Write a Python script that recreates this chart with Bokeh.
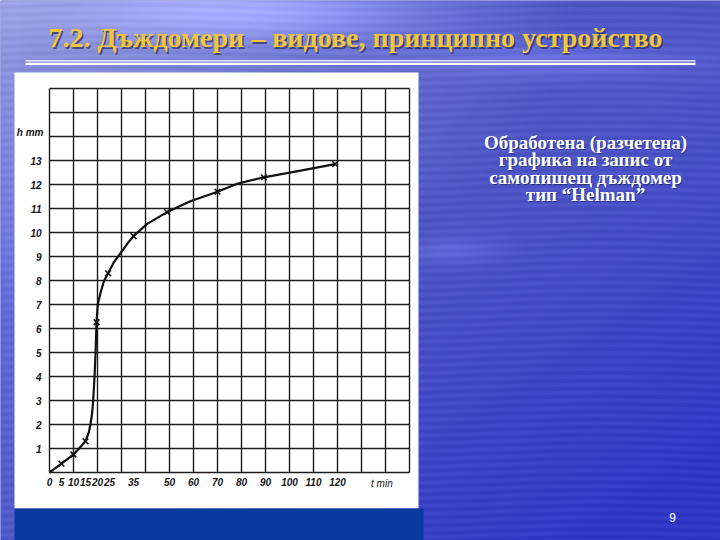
import numpy as np
from bokeh.plotting import figure
from bokeh.models import Range1d, Label, BoxAnnotation, FixedTicker
from bokeh.embed import file_html
from bokeh.resources import INLINE

# ---------------- data ----------------
title_text = "7.2. Дъждомери – видове, принципно устройство"
note_lines = ["Обработена (разчетена)", "графика на запис от", "самопишещ дъждомер", "тип “Helman”"]
page_number = "9"

x_name = "t min"
y_name = "h mm"
t_ticks = [0, 5, 10, 15, 20, 25, 35, 50, 60, 70, 80, 90, 100, 110, 120]
h_ticks = [1, 2, 3, 4, 5, 6, 7, 8, 9, 10, 11, 12, 13]
grid_t = [0, 10, 20, 30, 40, 50, 60, 70, 80, 90, 100, 110, 120, 130, 140, 150]
grid_h = [0, 1, 2, 3, 4, 5, 6, 7, 8, 9, 10, 11, 12, 13, 14, 15, 16]

curve_t = [0, 5, 10, 12.2, 15, 16.4, 17.1, 17.8, 18.2, 18.75, 19.2, 19.6, 20.1, 21.3,
           22.6, 24.4, 26.8, 29.3, 32.4, 35, 40.7, 49, 58.7, 70, 78.2, 89.3, 104.6, 119]
curve_h = [0, 0.37, 0.75, 0.99, 1.3, 1.68, 2.03, 2.5, 3.0, 3.97, 5.0, 6.26, 7.0, 7.5,
           7.95, 8.3, 8.76, 9.1, 9.53, 9.85, 10.36, 10.85, 11.3, 11.7, 12.03, 12.3, 12.58, 12.85]
point_t = [5, 10, 15, 19.6, 24.4, 35, 49, 70, 89.3, 119]
point_h = [0.37, 0.75, 1.3, 6.26, 8.3, 9.85, 10.85, 11.7, 12.3, 12.85]

# ---------------- layout (picture pixels -> data) ----------------
W, H = 720, 540
T0_X, H0_Y = 49.0, 472.0
PX_MIN, PX_MM = 2.4, 24.0


def dx(X):
    return (X - T0_X) / PX_MIN


def dy(Y):
    return (H0_Y - Y) / PX_MM


p = figure(width=W, height=H, x_range=Range1d(dx(0), dx(W)),
           y_range=Range1d(dy(H), dy(0)), output_backend="svg",
           toolbar_location=None, tools="", min_border=0)
p.outline_line_color = None
p.xgrid.visible = False
p.ygrid.visible = False
p.background_fill_color = "#4b55c0"
p.border_fill_color = "#4b55c0"

# ---------------- slide background ----------------
nx, ny = 360, 270
XX, YY = np.meshgrid(np.linspace(0, W, nx), np.linspace(0, H, ny))
u, v = XX / 720.0, YY / 540.0
light = np.array([150.0, 156.0, 222.0])
mid = np.array([78.0, 86.0, 198.0])
dark = np.array([50.0, 56.0, 198.0])
f = np.clip(np.sqrt((u / 0.8) ** 2 + (v / 0.6) ** 2), 0, 1)[..., None]
rgb = light * (1 - f) + mid * f
g = np.clip((u - 0.5) * 1.2 + (v - 0.55) * 1.4, 0, 1)[..., None]
rgb = rgb * (1 - g) + dark * g
glow = (45 * np.exp(-((XX - 250) / 170) ** 2 - ((YY - 10) / 28) ** 2)
        + 25 * np.exp(-((XX - 560) / 130) ** 2 - ((YY - 60) / 18) ** 2)
        + 18 * np.exp(-((XX - 450) / 50) ** 2 - ((YY - 250) / 12) ** 2)
        + 20 * np.exp(-((XX - 8) / 14) ** 2 - ((YY - 300) / 200) ** 2))
streak = 6 * np.sin(YY * 0.8 + 2.0 * np.sin(XX * 0.013))
rgb = np.clip(rgb + (glow + streak)[..., None], 0, 255)
img = np.empty((ny, nx), dtype=np.uint32)
view = img.view(dtype=np.uint8).reshape((ny, nx, 4))
view[..., 0] = rgb[..., 0]
view[..., 1] = rgb[..., 1]
view[..., 2] = rgb[..., 2]
view[..., 3] = 255
p.image_rgba(image=[img[::-1]], x=dx(0), y=dy(H), dw=W / PX_MIN, dh=H / PX_MM, level="image")

# white scanned panel and dark footer bar
p.add_layout(BoxAnnotation(left=dx(14), right=dx(418), top=dy(72), bottom=dy(508),
                           fill_color="white", fill_alpha=1, line_color=None, level="underlay"))
p.add_layout(BoxAnnotation(left=dx(14), right=dx(423), top=dy(508), bottom=dy(545),
                           fill_color="#0a3a9e", fill_alpha=1, line_color=None, level="underlay"))
# double rule under the title
p.add_layout(BoxAnnotation(left=dx(25), right=dx(695), top=dy(59.8), bottom=dy(61.0),
                           fill_color="white", fill_alpha=1, line_color=None, level="underlay"))
p.add_layout(BoxAnnotation(left=dx(25), right=dx(695), top=dy(62.2), bottom=dy(64.4),
                           fill_color="white", fill_alpha=1, line_color=None, level="underlay"))

# ---------------- chart ----------------
g_top, g_bot = grid_h[-1], grid_h[0]
g_left, g_right = grid_t[0], grid_t[-1]
p.segment(x0=grid_t, y0=[g_bot] * len(grid_t), x1=grid_t, y1=[g_top] * len(grid_t),
          line_color="#1c1c1c", line_width=1.4)
p.segment(x0=[g_left] * len(grid_h), y0=grid_h, x1=[g_right] * len(grid_h), y1=grid_h,
          line_color="#1c1c1c", line_width=1.4)
p.line(curve_t, curve_h, line_color="#111111", line_width=2.2)
p.scatter(point_t, point_h, marker="x", size=8, line_color="#111111", line_width=1.6)

for ax, ticks, standoff in ((p.xaxis, t_ticks, 5), (p.yaxis, h_ticks, 8)):
    ax.ticker = FixedTicker(ticks=ticks)
    ax.fixed_location = 0
    ax.axis_line_color = None
    ax.major_tick_line_color = None
    ax.minor_tick_line_color = None
    ax.major_tick_in = 0
    ax.major_tick_out = 0
    ax.major_label_standoff = standoff
    ax.major_label_text_font = "Liberation Sans"
    ax.major_label_text_font_style = "bold italic"
    ax.major_label_text_font_size = "10px"
    ax.major_label_text_color = "#151515"

p.add_layout(Label(x=138.5, y=-0.45, text=x_name, text_align="center", text_baseline="middle",
                   text_font="Liberation Sans", text_font_style="italic",
                   text_font_size="10px", text_color="#151515"))
p.add_layout(Label(x=dx(43), y=14.18, text=y_name, text_align="right", text_baseline="middle",
                   text_font="Liberation Sans", text_font_style="bold italic",
                   text_font_size="10px", text_color="#151515"))

# ---------------- slide texts ----------------
p.add_layout(Label(x=dx(356.5), y=dy(38.5), text=title_text, text_align="center",
                   text_baseline="alphabetic", text_font="Liberation Serif",
                   text_font_style="bold", text_font_size="28px", text_color="#2a2a55",
                   text_alpha=0.7))
p.add_layout(Label(x=dx(355), y=dy(37), text=title_text, text_align="center",
                   text_baseline="alphabetic", text_font="Liberation Serif",
                   text_font_style="bold", text_font_size="28px", text_color="#f2c63a"))

for i, line in enumerate(note_lines):
    base = 141.7 + i * 17.5
    p.add_layout(Label(x=dx(586), y=dy(base + 1), text=line, text_align="center",
                       text_baseline="alphabetic", text_font="Liberation Serif",
                       text_font_style="bold", text_font_size="19px", text_color="#1a1f60",
                       text_alpha=0.6))
    p.add_layout(Label(x=dx(585), y=dy(base), text=line, text_align="center",
                       text_baseline="alphabetic", text_font="Liberation Serif",
                       text_font_style="bold", text_font_size="19px", text_color="white"))

p.add_layout(Label(x=dx(672), y=dy(517), text=page_number, text_align="center",
                   text_baseline="middle", text_font="Liberation Sans",
                   text_font_size="12px", text_color="white"))

open("out.html", "w").write(file_html(p, INLINE))
